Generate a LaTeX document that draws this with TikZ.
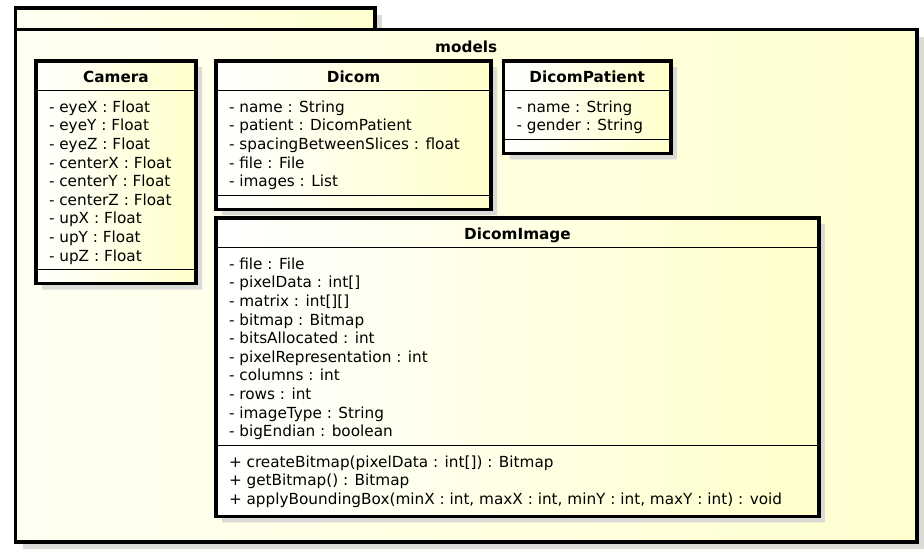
\documentclass[tikz,border=0pt]{standalone}
\usepackage{fontspec}
\setmainfont{DejaVu Sans}
\usepackage{tikz}
\usetikzlibrary{positioning,shadows,shapes.multipart}
\definecolor{umlyellow}{HTML}{FFFFCA}
\definecolor{pkgyellow}{HTML}{FFFFD0}
\definecolor{pkgwhite}{HTML}{FFFFF2}
\definecolor{shadowgray}{HTML}{DADAD6}
\newcommand{\umlfont}{\fontsize{11.45}{13.95}\selectfont}
\newcommand{\hdstrut}{\rule[-5.5pt]{0pt}{21pt}}
\newcommand{\upstrut}{\rule{0pt}{16.3pt}}
\newcommand{\dnstrut}{\rule[-6pt]{0pt}{6pt}}

\begin{document}
\begin{tikzpicture}
[x=0.75pt,y=-0.75pt,
every node/.style={font=\umlfont},
package/.style={draw,line width=2.4pt,inner sep=0pt,outer sep=0pt,anchor=north west,
  left color=pkgwhite,right color=pkgyellow,
  drop shadow={shadow xshift=5.25pt,shadow yshift=-5.25pt,fill=shadowgray,opacity=1}},
class/.style={rectangle split,rectangle split parts=3,draw,line width=.75pt,
  rectangle split part align={center,left,left},align=left,
  rectangle split empty part height=9.75pt,rectangle split empty part depth=0pt,
  inner xsep=9.75pt,inner ysep=0pt,outer sep=0pt,anchor=north west,
  left color=white,right color=umlyellow,
  drop shadow={shadow xshift=4.5pt,shadow yshift=-4.5pt,fill=shadowgray,opacity=1}},
border/.style={line width=2.4pt}]
\useasboundingbox (0,0) rectangle (924,550);

% package models
\node[package,minimum width=269.6pt,minimum height=16.1pt] (tab) at (15.5,8) {};
\node[package,minimum width=676.1pt,minimum height=384.4pt] (pkg) at (15.5,29.5) {};
\node[inner sep=0pt,font=\umlfont\bfseries,below=8.3pt of pkg.north] (title) {models};

% classes
\node[class,minimum width=120pt] (camera) at (36,61)
{\hdstrut\textbf{Camera}
\nodepart{two}\upstrut- eyeX : Float\\
- eyeY : Float\\
- eyeZ : Float\\
- centerX : Float\\
- centerY : Float\\
- centerZ : Float\\
- upX : Float\\
- upY : Float\\
- upZ : Float\dnstrut
\nodepart{three}};

\node[class,minimum width=206.25pt] (dicom) at (216,61)
{\hdstrut\textbf{Dicom}
\nodepart{two}\upstrut- name : String\\
- patient : DicomPatient\\
- spacingBetweenSlices : float\\
- file : File\\
- images : List\dnstrut
\nodepart{three}};

\node[class,minimum width=125.6pt] (patient) at (503.5,61)
{\hdstrut\textbf{DicomPatient}
\nodepart{two}\upstrut- name : String\\
- gender : String\dnstrut
\nodepart{three}};

\node[class,minimum width=452.25pt] (image) at (216,218)
{\hdstrut\textbf{DicomImage}
\nodepart{two}\upstrut- file : File\\
- pixelData : int[]\\
- matrix : int[][]\\
- bitmap : Bitmap\\
- bitsAllocated : int\\
- pixelRepresentation : int\\
- columns : int\\
- rows : int\\
- imageType : String\\
- bigEndian : boolean\dnstrut
\nodepart{three}\upstrut+ createBitmap(pixelData : int[]) : Bitmap\\
+ getBitmap() : Bitmap\\
+ applyBoundingBox(minX : int, maxX : int, minY : int, maxY : int) : void\rule[-8.5pt]{0pt}{8.5pt}};

\foreach \n in {camera,dicom,patient,image}
  \draw[border] (\n.north west) rectangle (\n.south east);
\end{tikzpicture}
\end{document}
